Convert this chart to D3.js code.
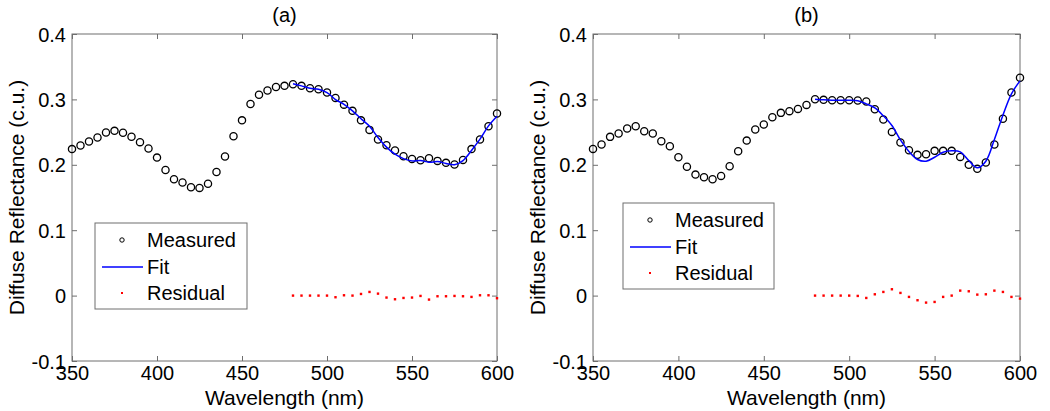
<!DOCTYPE html>
<html><head><meta charset="utf-8">
<script src="https://cdn.jsdelivr.net/npm/d3@7"></script>
<style>
body{margin:0;background:#fff;}
text{font-family:"Liberation Sans",Arial,sans-serif;fill:#000;}
</style></head>
<body><svg id="c" width="1050" height="411"></svg>
<script>
const wavelengths = d3.range(350, 601, 5);
const fitWavelengths = d3.range(480, 601, 5);
const xTicks = [350, 400, 450, 500, 550, 600];
const yTicks = [-0.1, 0, 0.1, 0.2, 0.3, 0.4];
const titles = ["(a)", "(b)"];
const legendLabels = ["Measured", "Fit", "Residual"];

const measuredA = [0.224,0.2295,0.2356,0.2417,0.2494,0.2519,0.249,0.243,0.2346,0.225,0.211,0.192,0.178,0.173,0.1657,0.1647,0.171,0.189,0.2127,0.2437,0.268,0.293,0.307,0.3136,0.319,0.3207,
  0.3232,0.3207,0.317,0.3156,0.3105,0.3023,0.292,0.2825,0.268,0.2534,0.2387,0.23,0.2218,0.213,0.209,0.207,0.210,0.206,0.203,0.2005,0.2075,0.224,0.2387,0.259,0.2784];
const fitA = [0.324,0.3207,0.317,0.3156,0.3105,0.2998,0.2925,0.2825,0.2705,0.259,0.2417,0.227,0.2162,0.2094,0.206,0.2065,0.2039,0.205,0.202,0.200,0.2065,0.222,0.2392,0.2595,0.2744];
const residualA = [0,0,0,0,0,-0.0025,0.0005,0,0.0025,0.0056,0.003,-0.003,-0.0056,-0.0036,-0.003,-0.0005,-0.0061,-0.001,-0.001,-0.0005,-0.001,-0.002,0.0005,0.0005,-0.004];

const measuredB = [0.2243,0.231,0.2427,0.2478,0.2555,0.259,0.2514,0.2478,0.236,0.2284,0.2116,0.197,0.185,0.181,0.178,0.183,0.1978,0.2208,0.237,0.254,0.2616,0.2728,0.2794,0.282,0.2855,0.2916,
  0.3003,0.2993,0.2988,0.2988,0.2988,0.2983,0.2968,0.285,0.2693,0.2503,0.234,0.2223,0.2152,0.2162,0.2213,0.2213,0.2213,0.2121,0.1999,0.1938,0.2035,0.231,0.2703,0.3105,0.333];
const fitB = [0.3003,0.2993,0.2988,0.2988,0.2988,0.2978,0.2932,0.287,0.2749,0.26,0.2381,0.2203,0.2081,0.2055,0.2116,0.2193,0.2213,0.2197,0.2065,0.1953,0.2055,0.2386,0.2759,0.3085,0.3284];
const residualB = [0,0,0,0,0,-0.0005,-0.0036,0.002,0.0056,0.0097,0.0041,-0.002,-0.0071,-0.0107,-0.0097,-0.002,0,0.0076,0.0066,0.0015,0.002,0.0076,0.0056,-0.002,-0.0046];

const panels = [
  {left:72, right:497, measured:measuredA, fit:fitA, residual:residualA, title:titles[0], ylabX:24, legend:{x:95, y:223, w:152, h:86}},
  {left:593, right:1020, measured:measuredB, fit:fitB, residual:residualB, title:titles[1], ylabX:545, legend:{x:623, y:203, w:151, h:86}}
];
const plotTop = 34, plotBottom = 361;
const svg = d3.select("#c");
const axisColor = "#6e6e6e";

panels.forEach(p => {
  const x = d3.scaleLinear().domain([350, 600]).range([p.left, p.right]);
  const y = d3.scaleLinear().domain([-0.1, 0.4]).range([plotBottom, plotTop]);
  const g = svg.append("g");

  g.append("rect").attr("x", p.left).attr("y", plotTop).attr("width", p.right - p.left).attr("height", plotBottom - plotTop)
    .attr("fill", "none").attr("stroke", axisColor).attr("stroke-width", 1);

  const ax = [
    d3.axisBottom(x).tickValues(xTicks).tickSize(-5).tickFormat(d3.format("d")),
    d3.axisTop(x).tickValues(xTicks).tickSize(-5).tickFormat(""),
    d3.axisLeft(y).tickValues(yTicks).tickSize(-5).tickFormat(d => Math.abs(d) < 1e-9 ? "0" : d.toFixed(1)),
    d3.axisRight(y).tickValues(yTicks).tickSize(-5).tickFormat("")
  ];
  const pos = [`translate(0,${plotBottom})`, `translate(0,${plotTop})`, `translate(${p.left},0)`, `translate(${p.right},0)`];
  ax.forEach((a, i) => {
    const ag = g.append("g").attr("transform", pos[i]).call(a);
    ag.select(".domain").remove();
    ag.selectAll("line").attr("stroke", axisColor);
    ag.selectAll("text").style("font-size", "20px").attr("fill", "#000");
    if (i === 0) ag.selectAll("text").attr("y", 5).attr("dy", "0.71em");
    if (i === 2) ag.selectAll("text").attr("x", -6).attr("dy", "0.35em");
  });

  g.append("text").attr("x", (p.left + p.right) / 2).attr("y", 405).attr("text-anchor", "middle")
    .style("font-size", "21px").text("Wavelength (nm)");
  g.append("text").attr("transform", `translate(${p.ylabX},${(plotTop + plotBottom) / 2}) rotate(-90)`)
    .attr("text-anchor", "middle").style("font-size", "21px").text("Diffuse Reflectance (c.u.)");
  g.append("text").attr("x", (p.left + p.right) / 2).attr("y", 22).attr("text-anchor", "middle")
    .style("font-size", "20px").text(p.title);

  g.append("g").selectAll("circle").data(wavelengths).join("circle")
    .attr("cx", (d) => x(d)).attr("cy", (d, i) => y(p.measured[i])).attr("r", 3.6)
    .attr("fill", "none").attr("stroke", "#000").attr("stroke-width", 1.3);

  const line = d3.line().x(d => x(d)).y((d, i) => y(p.fit[i])).curve(d3.curveCatmullRom.alpha(0.5));
  g.append("path").datum(fitWavelengths).attr("d", line).attr("fill", "none").attr("stroke", "#0000ff").attr("stroke-width", 1.5);

  g.append("g").selectAll("rect").data(fitWavelengths).join("rect")
    .attr("x", d => x(d) - 1.2).attr("y", (d, i) => y(p.residual[i]) - 1.2).attr("width", 2.4).attr("height", 2.4)
    .attr("fill", "#ff0000");

  const L = p.legend;
  const lg = g.append("g").attr("transform", `translate(${L.x},${L.y})`);
  lg.append("rect").attr("width", L.w).attr("height", L.h).attr("fill", "#fff").attr("stroke", axisColor).attr("stroke-width", 1);
  const rows = [17, 44, 70];
  lg.append("circle").attr("cx", 27).attr("cy", rows[0]).attr("r", 2.2).attr("fill", "none").attr("stroke", "#000").attr("stroke-width", 1);
  lg.append("line").attr("x1", 7).attr("x2", 48).attr("y1", rows[1]).attr("y2", rows[1]).attr("stroke", "#0000ff").attr("stroke-width", 1.5);
  lg.append("rect").attr("x", 26).attr("y", rows[2] - 1).attr("width", 2).attr("height", 2).attr("fill", "#ff0000");
  legendLabels.forEach((t, i) => {
    lg.append("text").attr("x", 52).attr("y", rows[i]).attr("dy", "0.36em").style("font-size", "20px").text(t);
  });
});
</script></body></html>
